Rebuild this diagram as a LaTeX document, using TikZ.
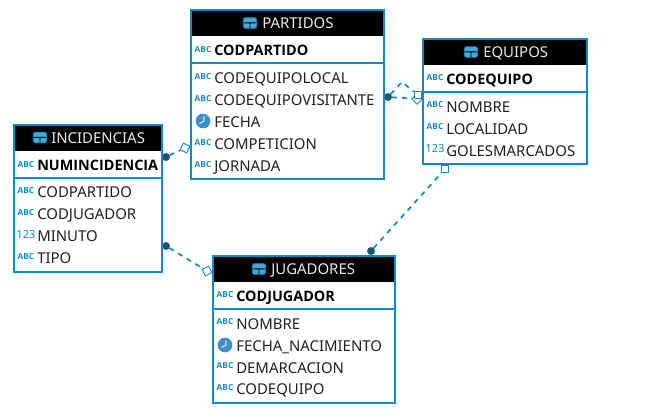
\documentclass[tikz,border=0pt]{standalone}
\usepackage{xcolor}
\usepackage{fontspec}
\setmainfont{Noto Sans}
\newfontfamily\keyfont{Open Sans}[BoldFont={Open Sans Bold}]
\definecolor{erblue}{HTML}{0A8CCB}
\definecolor{clockblue}{HTML}{3B8FD1}
\definecolor{dotdark}{HTML}{24506B}

\begin{document}
\begin{tikzpicture}[
		x=0.75pt, y=-0.75pt,
		tablebox/.style={rectangle, draw=erblue, line width=1.5pt, inner sep=0pt},
		headbox/.style={rectangle, fill=black, inner sep=0pt},
		rowline/.style={draw=erblue, line width=0.8pt},
		title/.style={anchor=west, inner sep=0pt, text=white!92!black, font=\fontsize{11.2pt}{12pt}\selectfont, text height=8pt, text depth=0pt},
		field/.style={anchor=west, inner sep=0pt, text=black!88, font=\fontsize{11.2pt}{12pt}\selectfont, text height=8pt, text depth=0pt},
		keyfield/.style={field, text=black, font=\keyfont\fontsize{10.8pt}{12pt}\selectfont\bfseries},
		abc/.style={inner sep=0pt, text=erblue, font=\keyfont\fontsize{6.2pt}{7pt}\selectfont\bfseries},
		num/.style={inner sep=0pt, text=erblue, font=\fontsize{8.4pt}{8pt}\selectfont},
		clock/.style={circle, fill=clockblue, inner sep=0pt, minimum size=11pt, path picture={
			\draw[white, line width=0.7pt] (path picture bounding box.center) ++(0.6pt,3.4pt) -- ++(0,-3.6pt) -- ++(-3.2pt,-1.6pt);}},
		tableicon/.style={rectangle, rounded corners=1.2pt, fill=erblue!75, draw=erblue, line width=0.6pt, inner sep=0pt, minimum width=10pt, minimum height=8pt, path picture={
			\fill[black] (path picture bounding box.north west) ++(0,-3.6pt) rectangle ++(10pt,-0.7pt);
			\fill[black] (path picture bounding box.north) ++(-0.3pt,-4pt) rectangle ++(0.6pt,-4pt);}},
		dotend/.style={circle, fill=dotdark, draw=erblue!70!black, line width=0.4pt, inner sep=0pt, minimum size=5.5pt},
		boxend/.style={rectangle, draw=erblue, fill=white, line width=0.7pt, inner sep=0pt, minimum size=5.5pt},
		link/.style={draw=erblue, line width=1.3pt, dash pattern=on 3.8pt off 3.8pt}
	]
		\useasboundingbox (0,0) rectangle (648,420);

		% Links
		\node[dotend] (incnum) at (166,157) {};
		\node[boxend, rotate=-25] (incpar) at (185,148) {};
		\node[dotend] (incmin) at (166,246) {};
		\node[boxend, rotate=25] (incjug) at (207,271) {};
		\node[dotend] (parvis) at (388,97) {};
		\node[boxend, rotate=45] (pardia) at (417,99) {};
		\node[boxend] (parequ) at (418,95) {};
		\coordinate (parpeak) at (402,82);
		\node[dotend] (jugequ) at (371,251) {};
		\node[boxend] (equjug) at (445,169) {};
		\draw[link] (incnum) -- (incpar);
		\draw[link] (incmin) -- (incjug);
		\draw[link] (parvis) -- (pardia);
		\draw[link] (parvis) -- (parpeak) -- (parequ);
		\draw[link] (jugequ) -- (equjug);

		% Partidos
		\node[headbox, minimum width=193*0.75pt, minimum height=26*0.75pt] (parhead) at (287.5,23) {};
		\node[tablebox, minimum width=193*0.75pt, minimum height=169*0.75pt] (partidos) at (287.5,94.5) {};
		\node[tableicon] (paricon) at (250,23) {};
		\node[title] (partitle) at (262,23.5) {PARTIDOS};
		\draw[rowline] (partidos.west |- 0,63) -- (partidos.east |- 0,63);
		\node[abc] (pa0) at (203,49.5) {ABC};
		\node[keyfield] (pf0) at (214,50.5) {CODPARTIDO};
		\node[abc] (pa1) at (203,76.5) {ABC};
		\node[field] (pf1) at (214,78) {CODEQUIPOLOCAL};
		\node[abc] (pa2) at (203,98.5) {ABC};
		\node[field] (pf2) at (214,100) {CODEQUIPOVISITANTE};
		\node[clock] (pa3) at (203,121) {};
		\node[field] (pf3) at (214,122) {FECHA};
		\node[abc] (pa4) at (203,142.5) {ABC};
		\node[field] (pf4) at (214,144) {COMPETICION};
		\node[abc] (pa5) at (203,164.5) {ABC};
		\node[field] (pf5) at (214,166) {JORNADA};

		% Equipos
		\node[headbox, minimum width=164*0.75pt, minimum height=26*0.75pt] (equhead) at (505,52) {};
		\node[tablebox, minimum width=164*0.75pt, minimum height=125*0.75pt] (equipos) at (505,101.5) {};
		\node[tableicon] (equicon) at (471,52) {};
		\node[title] (equtitle) at (483,52.5) {EQUIPOS};
		\draw[rowline] (equipos.west |- 0,92) -- (equipos.east |- 0,92);
		\node[abc] (ea0) at (435,78) {ABC};
		\node[keyfield] (ef0) at (446,79.5) {CODEQUIPO};
		\node[abc] (ea1) at (435,105) {ABC};
		\node[field] (ef1) at (446,107) {NOMBRE};
		\node[abc] (ea2) at (435,127) {ABC};
		\node[field] (ef2) at (446,129) {LOCALIDAD};
		\node[num] (ea3) at (435,149) {123};
		\node[field] (ef3) at (446,151) {GOLESMARCADOS};

		% Incidencias
		\node[headbox, minimum width=148*0.75pt, minimum height=26*0.75pt] (inchead) at (88,138) {};
		\node[tablebox, minimum width=148*0.75pt, minimum height=147*0.75pt] (incidencias) at (88,198.5) {};
		\node[tableicon] (incicon) at (40,137.5) {};
		\node[title] (inctitle) at (51,138.5) {INCIDENCIAS};
		\draw[rowline] (incidencias.west |- 0,178) -- (incidencias.east |- 0,178);
		\node[abc] (ia0) at (26,164.5) {ABC};
		\node[keyfield] (if0) at (37,165.5) {NUMINCIDENCIA};
		\node[abc] (ia1) at (26,191) {ABC};
		\node[field] (if1) at (37,192.5) {CODPARTIDO};
		\node[abc] (ia2) at (26,213) {ABC};
		\node[field] (if2) at (37,214.5) {CODJUGADOR};
		\node[num] (ia3) at (26,235) {123};
		\node[field] (if3) at (37,236.5) {MINUTO};
		\node[abc] (ia4) at (26,257) {ABC};
		\node[field] (if4) at (37,258.5) {TIPO};

		% Jugadores
		\node[headbox, minimum width=182*0.75pt, minimum height=26*0.75pt] (jughead) at (304,269) {};
		\node[tablebox, minimum width=182*0.75pt, minimum height=147*0.75pt] (jugadores) at (304,329.5) {};
		\node[tableicon] (jugicon) at (259,269) {};
		\node[title] (jugtitle) at (271,269.5) {JUGADORES};
		\draw[rowline] (jugadores.west |- 0,309) -- (jugadores.east |- 0,309);
		\node[abc] (ja0) at (225,295) {ABC};
		\node[keyfield] (jf0) at (236,296.5) {CODJUGADOR};
		\node[abc] (ja1) at (225,322) {ABC};
		\node[field] (jf1) at (236,324) {NOMBRE};
		\node[clock] (ja2) at (225,345) {};
		\node[field] (jf2) at (236,346) {FECHA\_NACIMIENTO};
		\node[abc] (ja3) at (225,366) {ABC};
		\node[field] (jf3) at (236,368) {DEMARCACION};
		\node[abc] (ja4) at (225,388) {ABC};
		\node[field] (jf4) at (236,389.5) {CODEQUIPO};
	\end{tikzpicture}
\end{document}
